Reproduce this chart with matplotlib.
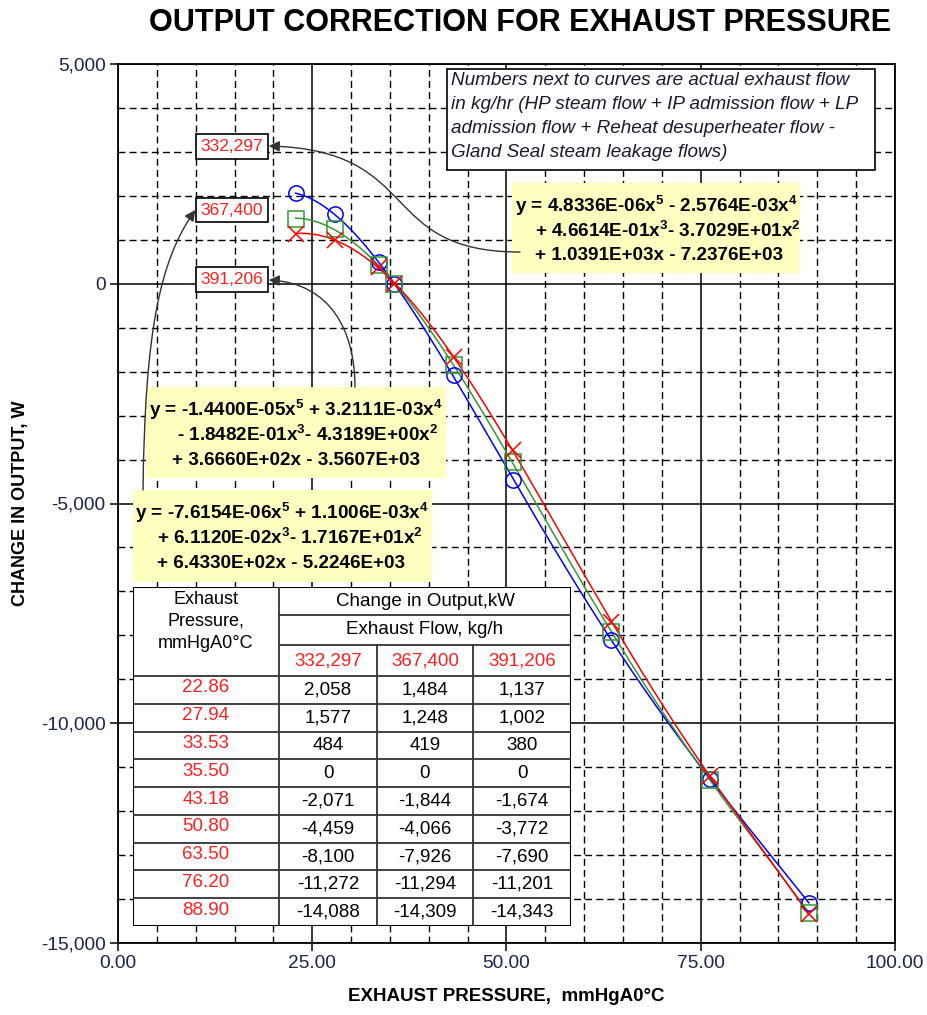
import numpy as np
import matplotlib
matplotlib.use("Agg")
import matplotlib.pyplot as plt
from matplotlib import ticker
from matplotlib.patches import Rectangle, FancyArrowPatch
from matplotlib.path import Path

plt.rcParams['font.family'] = ['Liberation Sans', 'DejaVu Sans']
plt.rcParams['mathtext.fontset'] = 'custom'
plt.rcParams['mathtext.rm'] = 'Liberation Sans:bold'
plt.rcParams['mathtext.it'] = 'Liberation Sans:bold'
plt.rcParams['mathtext.bf'] = 'Liberation Sans:bold'

# データ（表の値）
pressure = [22.86, 27.94, 33.53, 35.50, 43.18, 50.80, 63.50, 76.20, 88.90]
flow_labels = ['332,297', '367,400', '391,206']
dw_332297 = [2058, 1577, 484, 0, -2071, -4459, -8100, -11272, -14088]
dw_367400 = [1484, 1248, 419, 0, -1844, -4066, -7926, -11294, -14309]
dw_391206 = [1137, 1002, 380, 0, -1674, -3772, -7690, -11201, -14343]

# 近似式の係数（x^5 ... x^0）
coef_332297 = [4.8336E-06, -2.5764E-03, 4.6614E-01, -3.7029E+01, 1.0391E+03, -7.2376E+03]
coef_367400 = [-7.6154E-06, 1.1006E-03, 6.1120E-02, -1.7167E+01, 6.4330E+02, -5.2246E+03]
coef_391206 = [-1.4400E-05, 3.2111E-03, -1.8482E-01, -4.3189E+00, 3.6660E+02, -3.5607E+03]

series = [
    (dw_332297, coef_332297, '#0000ff', 'o'),
    (dw_367400, coef_367400, '#339933', 's'),
    (dw_391206, coef_391206, '#ff0000', 'x'),
]

W, H = 928, 1015
fig = plt.figure(figsize=(W / 100, H / 100), dpi=100)
ax = fig.add_axes([118 / W, 1 - 943 / H, 777 / W, 879 / H])

# 曲線とマーカー
xs = np.linspace(pressure[0], pressure[-1], 300)
for vals, coef, col, mk in series:
    ax.plot(xs, np.polyval(coef, xs), color=col, lw=1.1, zorder=3)
    ax.plot(pressure, vals, ls='none', marker=mk, ms=11, mfc='none',
            mec=col, mew=1.1, zorder=4)

ax.set_xlim(0, 100)
ax.set_ylim(-15000, 5000)
ax.xaxis.set_major_locator(ticker.MultipleLocator(25))
ax.xaxis.set_minor_locator(ticker.MultipleLocator(5))
ax.yaxis.set_major_locator(ticker.MultipleLocator(5000))
ax.yaxis.set_minor_locator(ticker.MultipleLocator(1000))
ax.xaxis.set_major_formatter(ticker.FuncFormatter(lambda v, p: f"{v:.2f}"))
ax.yaxis.set_major_formatter(ticker.FuncFormatter(lambda v, p: f"{v:,.0f}"))
ax.grid(which='major', color='black', lw=1.1, ls='-', zorder=1)
ax.grid(which='minor', color='black', lw=1.0, ls=(0, (5, 3)), zorder=1)
ax.set_axisbelow(True)
ax.tick_params(which='major', length=6, width=1.1, labelsize=13.8,
               labelcolor='#1c2547', pad=3)
ax.tick_params(which='minor', length=0)
for s in ax.spines.values():
    s.set_linewidth(1.3)

ax.set_xlabel('EXHAUST PRESSURE,  mmHgA0°C', fontsize=13.5, fontweight='bold',
              labelpad=11)
ax.set_ylabel('CHANGE IN OUTPUT, W', fontsize=13, fontweight='bold')
ax.yaxis.set_label_coords(-0.126, 0.5)
ax.yaxis.label.set_verticalalignment('center')
fig.text(520 / W, 1 - 23 / H, 'OUTPUT CORRECTION FOR EXHAUST PRESSURE',
         ha='center', va='center', fontsize=22, fontweight='bold')

# 注記ボックス
note_lines = ["Numbers next to curves are actual exhaust flow",
              "in kg/hr (HP steam flow + IP admission flow + LP",
              "admission flow + Reheat desuperheater flow -",
              "Gland Seal steam leakage flows)"]
ax.add_patch(Rectangle((42.34, 2588), 55.09, 2298, fc='white', ec='black',
                       lw=1.2, zorder=5))
for i, ln in enumerate(note_lines):
    ax.text(42.8, 4620 - 546 * i, ln, ha='left', va='center', fontsize=13.6,
            style='italic', color='#1a1a2e', zorder=6)

# 近似式ボックス
eq_boxes = [
    ((50.71, 245), 37.06, 2048, [51.1, 53.67, 53.67],
     ["y = 4.8336E-06x$^5$ - 2.5764E-03x$^4$",
      "+ 4.6614E-01x$^3$- 3.7029E+01x$^2$",
      "+ 1.0391E+03x - 7.2376E+03"]),
    ((3.60, -4425), 38.61, 2070, [3.99, 7.59, 6.95],
     ["y = -1.4400E-05x$^5$ + 3.2111E-03x$^4$",
      "- 1.8482E-01x$^3$- 4.3189E+00x$^2$",
      "+ 3.6660E+02x - 3.5607E+03"]),
    ((1.93, -6793), 38.48, 2093, [2.19, 5.02, 5.02],
     ["y = -7.6154E-06x$^5$ + 1.1006E-03x$^4$",
      "+ 6.1120E-02x$^3$- 1.7167E+01x$^2$",
      "+ 6.4330E+02x - 5.2246E+03"]),
]
for (x0, y0), w, h, txs, lines in eq_boxes:
    ax.add_patch(Rectangle((x0, y0), w, h, fc='#ffffbf', ec='none', zorder=5))
    top = y0 + h
    for i, (tx, ln) in enumerate(zip(txs, lines)):
        ax.text(tx, top - 520 - 569 * i, ln, ha='left', va='center',
                fontsize=13.6, fontweight='bold', zorder=6)

# 流量ラベル
label_y = [3128, 1678, 103]
for lab, yy in zip(flow_labels, label_y):
    ax.text(14.67, yy, lab, ha='center', va='center', fontsize=12.5,
            color='#ff2020', zorder=6,
            bbox=dict(boxstyle='square,pad=0.28', fc='white', ec='black', lw=1.2))

# 矢印
arrows = [
    [(51.74, 722), (33.20, 722), (39.40, 3043), (19.40, 3134)],
    [(30.50, -2355), (30.50, -1058), (27.30, 17), (19.40, 85)],
    [(3.22, -4693), (3.47, -1053), (5.41, 540), (9.95, 1678)],
]
for verts in arrows:
    p = Path(verts, [Path.MOVETO, Path.CURVE4, Path.CURVE4, Path.CURVE4])
    ax.add_patch(FancyArrowPatch(path=p, arrowstyle='-|>', mutation_scale=16,
                                 color='#333333', lw=1.0, zorder=5))

# 表
tab = fig.add_axes([133 / W, 1 - 926 / H, 438 / W, 339 / H])
tab.set_xlim(0, 438)
tab.set_ylim(339, 0)
tab.axis('off')
tab.add_patch(Rectangle((0, 0), 438, 339, fc='white', ec='black', lw=1.5))
cols = [0, 146, 244, 340, 438]
row_h = (339 - 89) / len(pressure)
lk = dict(color='#333333', lw=1.3)
tab.plot([146, 146], [0, 339], **lk)
tab.plot([146, 438], [28, 28], **lk)
tab.plot([146, 438], [58, 58], **lk)
for c in cols[2:4]:
    tab.plot([c, c], [58, 339], **lk)
for i in range(len(pressure)):
    y = 89 + i * row_h
    tab.plot([0, 438], [y, y], **lk)

fs = 13.5
for i, ln in enumerate(['Exhaust', 'Pressure,', 'mmHgA0°C']):
    tab.text(73, 12 + 22.5 * i, ln, ha='center', va='center', fontsize=fs - 0.5)
tab.text(292, 14, 'Change in Output,kW', ha='center', va='center', fontsize=fs)
tab.text(292, 43, 'Exhaust Flow, kg/h', ha='center', va='center', fontsize=fs)
for j, lab in enumerate(flow_labels):
    tab.text((cols[j + 1] + cols[j + 2]) / 2, 73.5, lab, ha='center',
             va='center', fontsize=fs, color='#ff2020')
all_vals = [dw_332297, dw_367400, dw_391206]
for i, p in enumerate(pressure):
    yc = 89 + (i + 0.5) * row_h
    tab.text(73, yc - 2, f"{p:.2f}", ha='center', va='center', fontsize=fs,
             color='#ff2020')
    for j in range(3):
        tab.text((cols[j + 1] + cols[j + 2]) / 2, yc, f"{all_vals[j][i]:,}",
                 ha='center', va='center', fontsize=fs)

fig.savefig('out.png', dpi=100)
